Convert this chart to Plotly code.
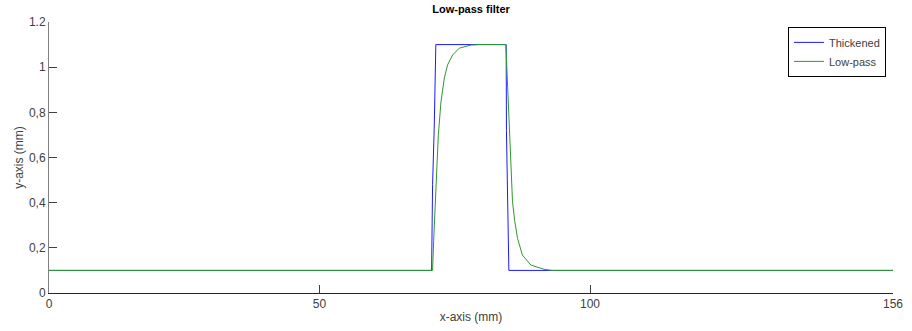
import plotly.graph_objects as go

# Data
thick_x = [0, 70.72, 70.9, 71.2, 71.5, 84.5, 84.55, 84.74, 85.0, 156]
thick_y = [0.1, 0.1, 0.48, 0.73, 1.1, 1.1, 0.72, 0.48, 0.1, 0.1]

lowpass_x = [0, 70.9, 71.09, 71.53, 71.96, 72.45, 73.06, 73.67, 74.6, 75.83, 78.0, 79.5,
             84.45, 84.63, 84.87, 85.06, 85.37, 85.67, 86.1, 86.6, 87.5, 89.06, 91.5, 93.0, 156]
lowpass_y = [0.1, 0.1, 0.227, 0.478, 0.70, 0.847, 0.951, 1.01, 1.054, 1.084, 1.098, 1.1,
             1.1, 0.995, 0.847, 0.70, 0.523, 0.404, 0.316, 0.242, 0.168, 0.124, 0.105, 0.1, 0.1]

x_ticks = [0, 50, 100, 156]
x_ticktext = ["0", "50", "100", "156"]
y_ticks = [0, 0.2, 0.4, 0.6, 0.8, 1.0, 1.2]
y_ticktext = ["0", "0,2", "0,4", "0,6", "0,8", "1", "1.2"]

FONT = "Liberation Sans, Arial, sans-serif"

fig = go.Figure()
fig.add_trace(go.Scatter(x=thick_x, y=thick_y, mode="lines", name="Thickened",
                         line=dict(color="#1a1aff", width=1)))
fig.add_trace(go.Scatter(x=lowpass_x, y=lowpass_y, mode="lines", name="Low-pass",
                         line=dict(color="#2e9a2e", width=1)))

fig.update_layout(
    width=912, height=331,
    margin=dict(l=49, r=19, t=22, b=38, autoexpand=False),
    paper_bgcolor="white", plot_bgcolor="white",
    font=dict(family=FONT, size=12, color="#404040"),
    title=dict(text="<b>Low-pass filter</b>", x=0.5165, xanchor="center",
               y=1 - 9 / 331, yanchor="middle", font=dict(size=11, color="black")),
    showlegend=True,
    legend=dict(x=0.9917, xanchor="right", y=0.982, yanchor="top",
                bordercolor="#000000", borderwidth=1, bgcolor="white",
                font=dict(size=11, color="#404040"), tracegroupgap=0,
                itemwidth=30),
    xaxis=dict(range=[0, 156], tickvals=x_ticks, ticktext=x_ticktext,
               ticks="inside", ticklen=8, tickcolor="#404040",
               showline=True, linecolor="#262626", linewidth=1,
               showgrid=False, zeroline=False, automargin=False,
               title=dict(text="x-axis (mm)", standoff=2, font=dict(size=12))),
    yaxis=dict(range=[0, 1.2], tickvals=y_ticks, ticktext=y_ticktext,
               ticks="inside", ticklen=8, tickcolor="#404040",
               showline=True, linecolor="#808080", linewidth=1,
               showgrid=False, zeroline=False, automargin=False,
               title=dict(text="y-axis (mm)", standoff=2, font=dict(size=12))),
)

fig.write_html("out.html", config={"displayModeBar": False},
               post_script="document.body.style.margin='0';")
